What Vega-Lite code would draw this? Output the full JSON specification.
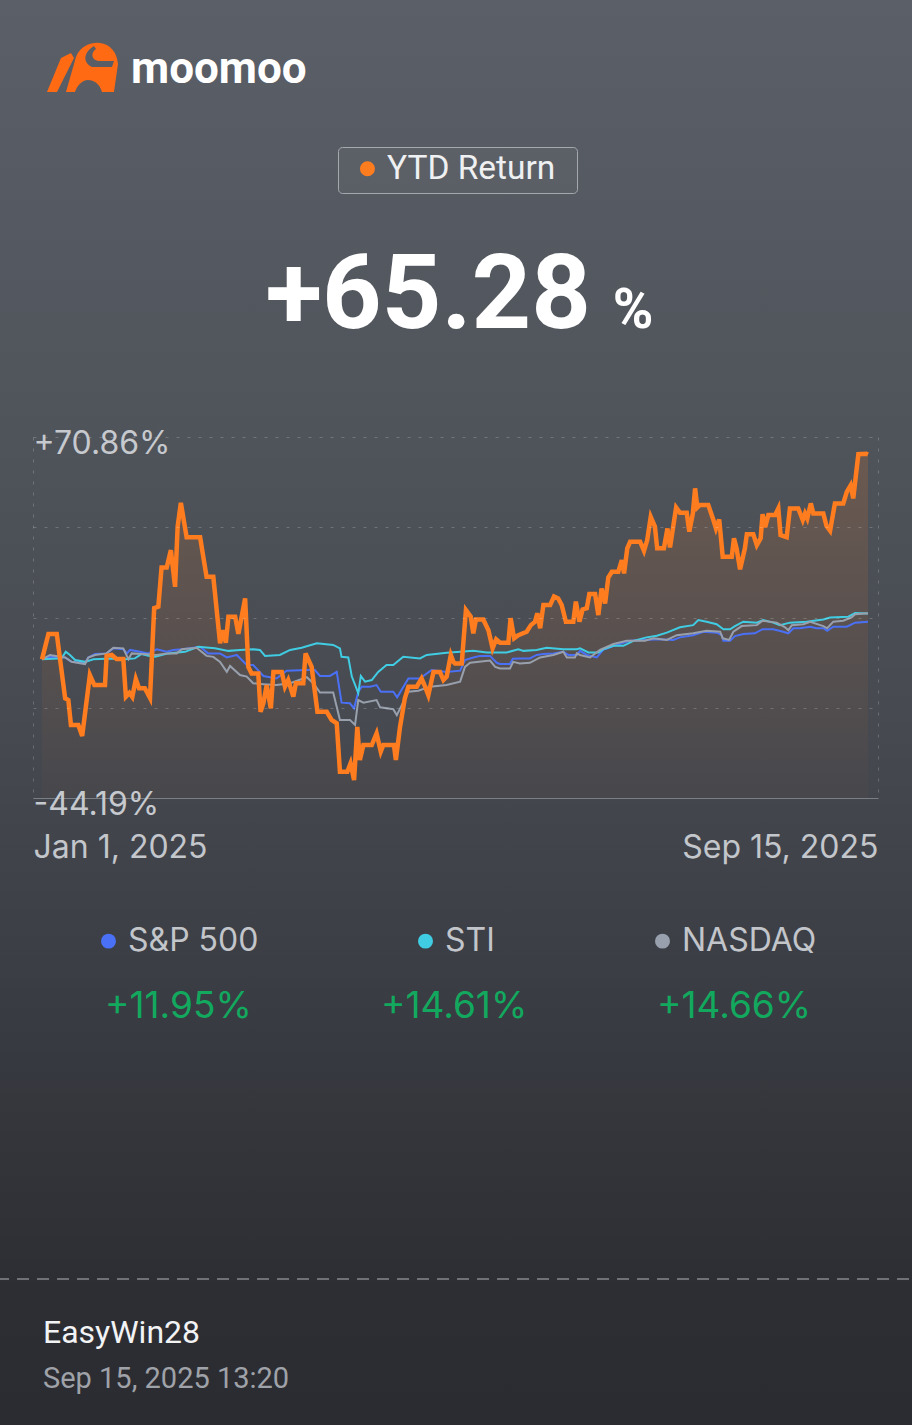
{
  "$schema": "https://vega.github.io/schema/vega-lite/v6.json",
  "width": 845,
  "height": 361,
  "autosize": {"type": "none"},
  "padding": {"left": 33, "top": 437, "right": 34, "bottom": 627},
  "background": "#42454c",
  "datasets": {
    "ytd": [
      {"day": 0, "ret": 0}, {"day": 2.0, "ret": 8.1}, {"day": 4.6, "ret": 8.1}, {"day": 7.2, "ret": -12.4},
      {"day": 8.2, "ret": -13.0}, {"day": 9.0, "ret": -20.9}, {"day": 11.3, "ret": -20.9}, {"day": 12.5, "ret": -24.4},
      {"day": 14.9, "ret": -5.0}, {"day": 16.3, "ret": -8.2}, {"day": 19.6, "ret": -8.2}, {"day": 20.1, "ret": 1.1},
      {"day": 21.7, "ret": 1.4}, {"day": 23.2, "ret": 0.1}, {"day": 25.3, "ret": 0.1}, {"day": 26.1, "ret": -11.9},
      {"day": 27.2, "ret": -10.7}, {"day": 28.1, "ret": -12.0}, {"day": 29.2, "ret": -6.3}, {"day": 30.2, "ret": -9.2},
      {"day": 32.0, "ret": -9.2}, {"day": 33.6, "ret": -12.3}, {"day": 34.9, "ret": 16.3}, {"day": 36.2, "ret": 16.8},
      {"day": 37.2, "ret": 29.3}, {"day": 38.8, "ret": 29.3}, {"day": 40.1, "ret": 34.8}, {"day": 41.4, "ret": 23.1},
      {"day": 42.2, "ret": 42.3}, {"day": 43.2, "ret": 49.9}, {"day": 45.0, "ret": 38.9}, {"day": 47.4, "ret": 38.9},
      {"day": 49.2, "ret": 38.9}, {"day": 51.2, "ret": 26.3}, {"day": 53.3, "ret": 26.3}, {"day": 55.4, "ret": 5.1},
      {"day": 56.4, "ret": 9.3}, {"day": 57.2, "ret": 5.3}, {"day": 58.0, "ret": 13.6}, {"day": 60.1, "ret": 13.6},
      {"day": 61.1, "ret": 8.1}, {"day": 63.2, "ret": 19.4}, {"day": 64.2, "ret": -2.4}, {"day": 65.2, "ret": -4.5},
      {"day": 67.3, "ret": -4.5}, {"day": 68.0, "ret": -16.7}, {"day": 68.9, "ret": -13.9}, {"day": 69.9, "ret": -8.2},
      {"day": 71.2, "ret": -15.6}, {"day": 72.0, "ret": -4.0}, {"day": 74.6, "ret": -4.0}, {"day": 75.6, "ret": -8.7},
      {"day": 76.6, "ret": -6.6}, {"day": 78.2, "ret": -11.9}, {"day": 79.0, "ret": -7.6}, {"day": 81.3, "ret": -7.6},
      {"day": 82.0, "ret": 1.9}, {"day": 83.9, "ret": -2.4}, {"day": 85.7, "ret": -16.7}, {"day": 88.6, "ret": -16.7},
      {"day": 90.1, "ret": -19.3}, {"day": 91.7, "ret": -20.4}, {"day": 92.7, "ret": -35.8}, {"day": 95.0, "ret": -35.8},
      {"day": 96.0, "ret": -33.1}, {"day": 97.1, "ret": -38.5}, {"day": 98.1, "ret": -21.5}, {"day": 98.9, "ret": -32.1},
      {"day": 100.0, "ret": -27.3}, {"day": 102.6, "ret": -27.3}, {"day": 104.1, "ret": -23.6}, {"day": 105.4, "ret": -29.4},
      {"day": 106.2, "ret": -27.3}, {"day": 109.5, "ret": -27.3}, {"day": 110.1, "ret": -32.1}, {"day": 111.4, "ret": -21.5},
      {"day": 112.9, "ret": -12.4}, {"day": 114.0, "ret": -8.7}, {"day": 116.6, "ret": -8.7}, {"day": 118.1, "ret": -6.1},
      {"day": 119.2, "ret": -8.7}, {"day": 120.2, "ret": -11.4}, {"day": 121.8, "ret": -4.0}, {"day": 123.8, "ret": -4.0},
      {"day": 124.9, "ret": -6.6}, {"day": 125.9, "ret": -5.5}, {"day": 127.2, "ret": 1.4}, {"day": 128.0, "ret": -0.8},
      {"day": 128.5, "ret": -1.3}, {"day": 130.6, "ret": -1.3}, {"day": 131.9, "ret": 15.7}, {"day": 133.4, "ret": 13.6},
      {"day": 134.2, "ret": 8.3}, {"day": 135.0, "ret": 12.7}, {"day": 137.3, "ret": 12.7}, {"day": 138.9, "ret": 9.3},
      {"day": 140.2, "ret": 3.5}, {"day": 141.3, "ret": 6.4}, {"day": 142.5, "ret": 5.3}, {"day": 145.1, "ret": 5.3},
      {"day": 145.8, "ret": 13.1}, {"day": 146.9, "ret": 6.7}, {"day": 148.2, "ret": 7.7}, {"day": 150.8, "ret": 8.8},
      {"day": 152.1, "ret": 10.9}, {"day": 153.4, "ret": 12.0}, {"day": 154.1, "ret": 14.7}, {"day": 155.0, "ret": 9.9},
      {"day": 156.0, "ret": 17.3}, {"day": 158.1, "ret": 17.3}, {"day": 159.3, "ret": 20.0}, {"day": 160.6, "ret": 19.4},
      {"day": 161.7, "ret": 17.3}, {"day": 163.0, "ret": 12.0}, {"day": 165.3, "ret": 12.0}, {"day": 166.1, "ret": 18.4},
      {"day": 167.2, "ret": 12.0}, {"day": 168.2, "ret": 15.9}, {"day": 169.5, "ret": 16.3}, {"day": 170.3, "ret": 20.8},
      {"day": 172.1, "ret": 20.8}, {"day": 173.1, "ret": 14.1}, {"day": 174.1, "ret": 22.6}, {"day": 175.2, "ret": 17.8},
      {"day": 176.2, "ret": 26.1}, {"day": 177.3, "ret": 27.9}, {"day": 179.3, "ret": 27.9}, {"day": 180.4, "ret": 31.6},
      {"day": 181.1, "ret": 27.4}, {"day": 182.1, "ret": 35.4}, {"day": 183.0, "ret": 37.5}, {"day": 186.1, "ret": 37.5},
      {"day": 187.3, "ret": 34.6}, {"day": 188.3, "ret": 38.0}, {"day": 189.4, "ret": 45.4}, {"day": 190.7, "ret": 42.3},
      {"day": 191.4, "ret": 35.4}, {"day": 193.5, "ret": 35.4}, {"day": 194.6, "ret": 41.7}, {"day": 195.4, "ret": 35.7},
      {"day": 197.3, "ret": 48.4}, {"day": 198.5, "ret": 46.7}, {"day": 200.6, "ret": 46.7}, {"day": 201.4, "ret": 40.7},
      {"day": 202.5, "ret": 46.5}, {"day": 203.2, "ret": 54.5}, {"day": 203.9, "ret": 48.4}, {"day": 204.7, "ret": 49.2},
      {"day": 207.3, "ret": 49.2}, {"day": 208.9, "ret": 44.4}, {"day": 209.7, "ret": 41.7}, {"day": 210.7, "ret": 44.6},
      {"day": 211.8, "ret": 32.7}, {"day": 214.6, "ret": 32.7}, {"day": 215.3, "ret": 38.6}, {"day": 216.1, "ret": 35.4},
      {"day": 217.2, "ret": 28.7}, {"day": 218.7, "ret": 35.4}, {"day": 219.3, "ret": 39.9}, {"day": 221.3, "ret": 39.9},
      {"day": 222.4, "ret": 36.4}, {"day": 223.6, "ret": 38.6}, {"day": 224.2, "ret": 46.3}, {"day": 225.0, "ret": 42.1},
      {"day": 226.0, "ret": 46.0}, {"day": 228.1, "ret": 46.0}, {"day": 229.1, "ret": 48.1}, {"day": 229.8, "ret": 39.6},
      {"day": 231.7, "ret": 38.9}, {"day": 232.7, "ret": 48.1}, {"day": 235.3, "ret": 48.1}, {"day": 236.7, "ret": 44.4},
      {"day": 237.4, "ret": 46.5}, {"day": 238.1, "ret": 44.9}, {"day": 239.2, "ret": 49.7}, {"day": 240.0, "ret": 46.5},
      {"day": 243.1, "ret": 46.5}, {"day": 244.1, "ret": 42.5}, {"day": 245.2, "ret": 41.0}, {"day": 246.7, "ret": 49.7},
      {"day": 249.3, "ret": 49.7}, {"day": 250.4, "ret": 53.4}, {"day": 251.6, "ret": 55.5}, {"day": 252.4, "ret": 51.3},
      {"day": 254.0, "ret": 65.4}, {"day": 256.5, "ret": 65.5}, {"day": 257, "ret": 65.28}
    ],
    "bench": [
      {"series": "S&P 500", "day": 0, "ret": 0}, {"series": "S&P 500", "day": 2.5, "ret": 0.8}, {"series": "S&P 500", "day": 7.2, "ret": 0.6},
      {"series": "S&P 500", "day": 9.2, "ret": -0.8}, {"series": "S&P 500", "day": 13.4, "ret": -1.1}, {"series": "S&P 500", "day": 14.4, "ret": 0.6},
      {"series": "S&P 500", "day": 16.5, "ret": 1.7}, {"series": "S&P 500", "day": 20.1, "ret": 1.9}, {"series": "S&P 500", "day": 22.2, "ret": 3.5},
      {"series": "S&P 500", "day": 25.3, "ret": 3.2}, {"series": "S&P 500", "day": 26.4, "ret": 1.9}, {"series": "S&P 500", "day": 27.4, "ret": 3.0},
      {"series": "S&P 500", "day": 30.5, "ret": 2.4}, {"series": "S&P 500", "day": 33.1, "ret": 1.9}, {"series": "S&P 500", "day": 35.7, "ret": 3.2},
      {"series": "S&P 500", "day": 38.8, "ret": 2.4}, {"series": "S&P 500", "day": 40.9, "ret": 3.0}, {"series": "S&P 500", "day": 43.5, "ret": 3.2},
      {"series": "S&P 500", "day": 46.0, "ret": 3.5}, {"series": "S&P 500", "day": 49.2, "ret": 4.0}, {"series": "S&P 500", "day": 51.7, "ret": 1.9},
      {"series": "S&P 500", "day": 55.4, "ret": 1.9}, {"series": "S&P 500", "day": 57.5, "ret": 0.6}, {"series": "S&P 500", "day": 60.6, "ret": 1.4},
      {"series": "S&P 500", "day": 63.7, "ret": -1.8}, {"series": "S&P 500", "day": 65.7, "ret": -1.8}, {"series": "S&P 500", "day": 68.9, "ret": -5.3},
      {"series": "S&P 500", "day": 73.0, "ret": -6.1}, {"series": "S&P 500", "day": 76.1, "ret": -3.6}, {"series": "S&P 500", "day": 82.4, "ret": -3.4},
      {"series": "S&P 500", "day": 84.9, "ret": -3.4}, {"series": "S&P 500", "day": 86.5, "ret": -5.3}, {"series": "S&P 500", "day": 89.6, "ret": -5.3},
      {"series": "S&P 500", "day": 91.7, "ret": -4.0}, {"series": "S&P 500", "day": 93.2, "ret": -13.8}, {"series": "S&P 500", "day": 95.8, "ret": -14.0},
      {"series": "S&P 500", "day": 97.1, "ret": -15.6}, {"series": "S&P 500", "day": 98.4, "ret": -10.3}, {"series": "S&P 500", "day": 99.5, "ret": -8.7},
      {"series": "S&P 500", "day": 102.1, "ret": -8.7}, {"series": "S&P 500", "day": 104.1, "ret": -8.2}, {"series": "S&P 500", "day": 105.4, "ret": -10.3},
      {"series": "S&P 500", "day": 109.3, "ret": -10.3}, {"series": "S&P 500", "day": 110.5, "ret": -12.1}, {"series": "S&P 500", "day": 114.0, "ret": -6.1},
      {"series": "S&P 500", "day": 117.6, "ret": -6.1}, {"series": "S&P 500", "day": 121.2, "ret": -3.4}, {"series": "S&P 500", "day": 125.9, "ret": -4.0},
      {"series": "S&P 500", "day": 130.1, "ret": -3.6}, {"series": "S&P 500", "day": 131.6, "ret": -0.2}, {"series": "S&P 500", "day": 134.2, "ret": 0.6},
      {"series": "S&P 500", "day": 136.3, "ret": 1.1}, {"series": "S&P 500", "day": 139.4, "ret": 1.1}, {"series": "S&P 500", "day": 141.5, "ret": -1.1},
      {"series": "S&P 500", "day": 142.5, "ret": -1.5}, {"series": "S&P 500", "day": 145.6, "ret": -1.5}, {"series": "S&P 500", "day": 146.5, "ret": 0.2},
      {"series": "S&P 500", "day": 148.7, "ret": 0.3}, {"series": "S&P 500", "day": 151.8, "ret": 0.3}, {"series": "S&P 500", "day": 153.9, "ret": 1.4},
      {"series": "S&P 500", "day": 156.0, "ret": 1.7}, {"series": "S&P 500", "day": 159.1, "ret": 1.9}, {"series": "S&P 500", "day": 162.2, "ret": 2.4},
      {"series": "S&P 500", "day": 163.8, "ret": 1.4}, {"series": "S&P 500", "day": 166.4, "ret": 1.4}, {"series": "S&P 500", "day": 167.4, "ret": 2.7},
      {"series": "S&P 500", "day": 169.5, "ret": 1.4}, {"series": "S&P 500", "day": 172.6, "ret": 0.6}, {"series": "S&P 500", "day": 174.6, "ret": 3.0},
      {"series": "S&P 500", "day": 178.8, "ret": 4.6}, {"series": "S&P 500", "day": 183.0, "ret": 5.9}, {"series": "S&P 500", "day": 187.1, "ret": 6.2},
      {"series": "S&P 500", "day": 192.3, "ret": 6.4}, {"series": "S&P 500", "day": 196.4, "ret": 6.2}, {"series": "S&P 500", "day": 198.5, "ret": 7.0},
      {"series": "S&P 500", "day": 202.6, "ret": 7.7}, {"series": "S&P 500", "day": 205.8, "ret": 8.8}, {"series": "S&P 500", "day": 209.9, "ret": 8.5},
      {"series": "S&P 500", "day": 211.5, "ret": 7.7}, {"series": "S&P 500", "day": 212.0, "ret": 5.9}, {"series": "S&P 500", "day": 214.1, "ret": 5.9},
      {"series": "S&P 500", "day": 215.6, "ret": 7.4}, {"series": "S&P 500", "day": 218.2, "ret": 8.1}, {"series": "S&P 500", "day": 221.8, "ret": 8.3},
      {"series": "S&P 500", "day": 224.2, "ret": 9.6}, {"series": "S&P 500", "day": 227.5, "ret": 9.6}, {"series": "S&P 500", "day": 230.6, "ret": 8.8},
      {"series": "S&P 500", "day": 232.2, "ret": 8.3}, {"series": "S&P 500", "day": 233.8, "ret": 9.9}, {"series": "S&P 500", "day": 235.8, "ret": 9.9},
      {"series": "S&P 500", "day": 239.0, "ret": 10.4}, {"series": "S&P 500", "day": 241.0, "ret": 9.9}, {"series": "S&P 500", "day": 243.1, "ret": 9.9},
      {"series": "S&P 500", "day": 244.3, "ret": 9.1}, {"series": "S&P 500", "day": 246.2, "ret": 10.4}, {"series": "S&P 500", "day": 250.4, "ret": 10.4},
      {"series": "S&P 500", "day": 253.0, "ret": 11.7}, {"series": "S&P 500", "day": 257, "ret": 11.95},
      {"series": "STI", "day": 0, "ret": 0}, {"series": "STI", "day": 6.1, "ret": 0.3}, {"series": "STI", "day": 7.4, "ret": 2.4},
      {"series": "STI", "day": 8.7, "ret": 1.4}, {"series": "STI", "day": 10.3, "ret": -0.2}, {"series": "STI", "day": 13.4, "ret": -0.8},
      {"series": "STI", "day": 16.0, "ret": 0.0}, {"series": "STI", "day": 21.7, "ret": 0.3}, {"series": "STI", "day": 25.8, "ret": 0.0},
      {"series": "STI", "day": 28.9, "ret": 0.3}, {"series": "STI", "day": 31.0, "ret": 1.7}, {"series": "STI", "day": 33.1, "ret": 1.1},
      {"series": "STI", "day": 35.2, "ret": 0.8}, {"series": "STI", "day": 39.3, "ret": 1.9}, {"series": "STI", "day": 44.5, "ret": 2.4},
      {"series": "STI", "day": 48.6, "ret": 4.0}, {"series": "STI", "day": 53.8, "ret": 3.5}, {"series": "STI", "day": 58.0, "ret": 2.7},
      {"series": "STI", "day": 61.6, "ret": 3.0}, {"series": "STI", "day": 65.7, "ret": 3.2}, {"series": "STI", "day": 67.8, "ret": 3.0},
      {"series": "STI", "day": 69.4, "ret": 1.1}, {"series": "STI", "day": 74.0, "ret": 1.4}, {"series": "STI", "day": 77.2, "ret": 3.0},
      {"series": "STI", "day": 80.8, "ret": 3.7}, {"series": "STI", "day": 85.5, "ret": 5.1}, {"series": "STI", "day": 90.6, "ret": 4.6},
      {"series": "STI", "day": 92.7, "ret": 3.5}, {"series": "STI", "day": 93.2, "ret": 0.8}, {"series": "STI", "day": 95.3, "ret": 0.6},
      {"series": "STI", "day": 96.4, "ret": -5.5}, {"series": "STI", "day": 98.4, "ret": -10.8}, {"series": "STI", "day": 99.2, "ret": -5.3},
      {"series": "STI", "day": 100.5, "ret": -7.1}, {"series": "STI", "day": 102.6, "ret": -6.6}, {"series": "STI", "day": 104.6, "ret": -4.0},
      {"series": "STI", "day": 107.2, "ret": -1.8}, {"series": "STI", "day": 109.3, "ret": -1.8}, {"series": "STI", "day": 112.4, "ret": 0.8},
      {"series": "STI", "day": 117.6, "ret": 0.3}, {"series": "STI", "day": 119.7, "ret": 1.4}, {"series": "STI", "day": 125.9, "ret": 2.1},
      {"series": "STI", "day": 130.1, "ret": 2.4}, {"series": "STI", "day": 134.2, "ret": 2.7}, {"series": "STI", "day": 138.4, "ret": 2.2},
      {"series": "STI", "day": 144.6, "ret": 2.2}, {"series": "STI", "day": 148.2, "ret": 3.2}, {"series": "STI", "day": 149.8, "ret": 2.7},
      {"series": "STI", "day": 153.9, "ret": 3.0}, {"series": "STI", "day": 157.0, "ret": 3.7}, {"series": "STI", "day": 162.2, "ret": 3.2},
      {"series": "STI", "day": 166.4, "ret": 3.2}, {"series": "STI", "day": 167.4, "ret": 3.5}, {"series": "STI", "day": 170.0, "ret": 2.2},
      {"series": "STI", "day": 173.1, "ret": 2.2}, {"series": "STI", "day": 174.6, "ret": 3.2}, {"series": "STI", "day": 177.8, "ret": 4.3},
      {"series": "STI", "day": 180.9, "ret": 4.3}, {"series": "STI", "day": 184.0, "ret": 5.9}, {"series": "STI", "day": 188.1, "ret": 7.0},
      {"series": "STI", "day": 191.3, "ret": 7.5}, {"series": "STI", "day": 194.4, "ret": 8.5}, {"series": "STI", "day": 198.5, "ret": 10.2},
      {"series": "STI", "day": 202.6, "ret": 10.9}, {"series": "STI", "day": 204.2, "ret": 12.5}, {"series": "STI", "day": 206.8, "ret": 12.0},
      {"series": "STI", "day": 209.9, "ret": 11.2}, {"series": "STI", "day": 212.0, "ret": 9.6}, {"series": "STI", "day": 214.1, "ret": 9.6},
      {"series": "STI", "day": 215.6, "ret": 10.6}, {"series": "STI", "day": 218.2, "ret": 12.0}, {"series": "STI", "day": 222.4, "ret": 11.7},
      {"series": "STI", "day": 224.4, "ret": 12.5}, {"series": "STI", "day": 227.5, "ret": 11.7}, {"series": "STI", "day": 229.6, "ret": 10.9},
      {"series": "STI", "day": 232.7, "ret": 11.7}, {"series": "STI", "day": 237.9, "ret": 12.0}, {"series": "STI", "day": 243.1, "ret": 12.7},
      {"series": "STI", "day": 245.2, "ret": 13.3}, {"series": "STI", "day": 250.9, "ret": 13.6}, {"series": "STI", "day": 253.0, "ret": 14.8},
      {"series": "STI", "day": 257, "ret": 14.61},
      {"series": "NASDAQ", "day": 0, "ret": 0}, {"series": "NASDAQ", "day": 2.5, "ret": 1.4}, {"series": "NASDAQ", "day": 7.2, "ret": 0.6},
      {"series": "NASDAQ", "day": 9.2, "ret": -0.8}, {"series": "NASDAQ", "day": 13.4, "ret": -1.5}, {"series": "NASDAQ", "day": 14.4, "ret": 0.6},
      {"series": "NASDAQ", "day": 16.5, "ret": 1.4}, {"series": "NASDAQ", "day": 20.1, "ret": 1.9}, {"series": "NASDAQ", "day": 22.2, "ret": 3.7},
      {"series": "NASDAQ", "day": 25.3, "ret": 3.5}, {"series": "NASDAQ", "day": 26.9, "ret": 0.0}, {"series": "NASDAQ", "day": 27.9, "ret": 1.9},
      {"series": "NASDAQ", "day": 32.6, "ret": 1.6}, {"series": "NASDAQ", "day": 35.7, "ret": 1.4}, {"series": "NASDAQ", "day": 38.8, "ret": 1.9},
      {"series": "NASDAQ", "day": 41.9, "ret": 1.9}, {"series": "NASDAQ", "day": 43.5, "ret": 3.2}, {"series": "NASDAQ", "day": 48.1, "ret": 3.7},
      {"series": "NASDAQ", "day": 51.2, "ret": 1.1}, {"series": "NASDAQ", "day": 53.3, "ret": 0.8}, {"series": "NASDAQ", "day": 55.4, "ret": -0.8},
      {"series": "NASDAQ", "day": 57.5, "ret": -4.0}, {"series": "NASDAQ", "day": 58.5, "ret": -2.1}, {"series": "NASDAQ", "day": 61.6, "ret": -5.0},
      {"series": "NASDAQ", "day": 63.7, "ret": -5.5}, {"series": "NASDAQ", "day": 65.7, "ret": -7.6}, {"series": "NASDAQ", "day": 68.9, "ret": -7.9},
      {"series": "NASDAQ", "day": 73.0, "ret": -8.2}, {"series": "NASDAQ", "day": 77.2, "ret": -7.6}, {"series": "NASDAQ", "day": 82.4, "ret": -5.7},
      {"series": "NASDAQ", "day": 84.4, "ret": -7.6}, {"series": "NASDAQ", "day": 86.5, "ret": -10.6}, {"series": "NASDAQ", "day": 90.6, "ret": -10.6},
      {"series": "NASDAQ", "day": 92.7, "ret": -19.3}, {"series": "NASDAQ", "day": 95.8, "ret": -19.3}, {"series": "NASDAQ", "day": 97.4, "ret": -20.9},
      {"series": "NASDAQ", "day": 98.4, "ret": -13.0}, {"series": "NASDAQ", "day": 100.0, "ret": -13.8}, {"series": "NASDAQ", "day": 104.1, "ret": -13.0},
      {"series": "NASDAQ", "day": 105.2, "ret": -15.3}, {"series": "NASDAQ", "day": 109.3, "ret": -15.9}, {"series": "NASDAQ", "day": 110.4, "ret": -17.8},
      {"series": "NASDAQ", "day": 114.0, "ret": -10.3}, {"series": "NASDAQ", "day": 117.1, "ret": -10.0}, {"series": "NASDAQ", "day": 120.7, "ret": -8.7},
      {"series": "NASDAQ", "day": 125.9, "ret": -8.2}, {"series": "NASDAQ", "day": 130.1, "ret": -7.1}, {"series": "NASDAQ", "day": 131.6, "ret": -2.4},
      {"series": "NASDAQ", "day": 133.2, "ret": -1.1}, {"series": "NASDAQ", "day": 139.4, "ret": -0.4}, {"series": "NASDAQ", "day": 141.0, "ret": -2.4},
      {"series": "NASDAQ", "day": 142.5, "ret": -2.9}, {"series": "NASDAQ", "day": 145.6, "ret": -2.9}, {"series": "NASDAQ", "day": 146.6, "ret": -0.8},
      {"series": "NASDAQ", "day": 148.7, "ret": -1.3}, {"series": "NASDAQ", "day": 151.8, "ret": -1.1}, {"series": "NASDAQ", "day": 155.0, "ret": 0.6},
      {"series": "NASDAQ", "day": 159.1, "ret": 1.4}, {"series": "NASDAQ", "day": 162.2, "ret": 2.4}, {"series": "NASDAQ", "day": 163.3, "ret": 0.6},
      {"series": "NASDAQ", "day": 165.8, "ret": 0.6}, {"series": "NASDAQ", "day": 166.4, "ret": 1.9}, {"series": "NASDAQ", "day": 167.4, "ret": 1.4},
      {"series": "NASDAQ", "day": 170.5, "ret": 0.6}, {"series": "NASDAQ", "day": 173.6, "ret": 3.0}, {"series": "NASDAQ", "day": 177.8, "ret": 4.9},
      {"series": "NASDAQ", "day": 181.9, "ret": 5.9}, {"series": "NASDAQ", "day": 187.6, "ret": 5.9}, {"series": "NASDAQ", "day": 190.2, "ret": 6.7},
      {"series": "NASDAQ", "day": 194.4, "ret": 6.2}, {"series": "NASDAQ", "day": 197.5, "ret": 7.7}, {"series": "NASDAQ", "day": 202.6, "ret": 8.3},
      {"series": "NASDAQ", "day": 206.8, "ret": 9.1}, {"series": "NASDAQ", "day": 211.0, "ret": 8.8}, {"series": "NASDAQ", "day": 211.8, "ret": 6.7},
      {"series": "NASDAQ", "day": 213.8, "ret": 6.2}, {"series": "NASDAQ", "day": 215.1, "ret": 8.8}, {"series": "NASDAQ", "day": 217.7, "ret": 10.6},
      {"series": "NASDAQ", "day": 222.4, "ret": 10.9}, {"series": "NASDAQ", "day": 224.2, "ret": 12.3}, {"series": "NASDAQ", "day": 228.6, "ret": 11.7},
      {"series": "NASDAQ", "day": 231.2, "ret": 10.2}, {"series": "NASDAQ", "day": 232.2, "ret": 9.3}, {"series": "NASDAQ", "day": 233.3, "ret": 10.9},
      {"series": "NASDAQ", "day": 236.9, "ret": 11.2}, {"series": "NASDAQ", "day": 239.0, "ret": 12.0}, {"series": "NASDAQ", "day": 243.1, "ret": 10.6},
      {"series": "NASDAQ", "day": 244.3, "ret": 9.9}, {"series": "NASDAQ", "day": 246.2, "ret": 12.0}, {"series": "NASDAQ", "day": 249.3, "ret": 12.3},
      {"series": "NASDAQ", "day": 251.9, "ret": 13.4}, {"series": "NASDAQ", "day": 253.0, "ret": 14.4}, {"series": "NASDAQ", "day": 257, "ret": 14.66}
    ],
    "summary": [
      {"series": "S&P 500", "label": "+11.95%"},
      {"series": "STI", "label": "+14.61%"},
      {"series": "NASDAQ", "label": "+14.66%"}
    ]
  },
  "layer": [
    {
      "data": {"values": [{}]},
      "mark": {
        "type": "rect",
        "fill": {
          "gradient": "linear", "x1": 0, "y1": 0, "x2": 0, "y2": 1,
          "stops": [
            {"offset": 0, "color": "#5b5f67"},
            {"offset": 0.31, "color": "#4f535a"},
            {"offset": 0.5, "color": "#474a51"},
            {"offset": 0.66, "color": "#3c3f46"},
            {"offset": 0.8, "color": "#33353b"},
            {"offset": 0.9, "color": "#2d2e33"},
            {"offset": 1, "color": "#2b2c31"}
          ]
        }
      },
      "encoding": {
        "x": {"datum": -14, "type": "quantitative", "title": null, "scale": {"domain": [-2.8, 260.11], "nice": false, "zero": false}},
        "x2": {"datum": 272},
        "y": {"datum": 211, "type": "quantitative", "title": null, "scale": {"domain": [-44.19, 70.86], "nice": false, "zero": false}},
        "y2": {"datum": -245}
      }
    },
    {
      "data": {"name": "ytd"},
      "mark": {
        "type": "area",
        "fill": {
          "gradient": "linear", "x1": 0, "y1": 0, "x2": 0, "y2": 1,
          "stops": [
            {"offset": 0, "color": "rgba(255,125,31,0.16)"},
            {"offset": 1, "color": "rgba(255,125,31,0.02)"}
          ]
        }
      },
      "encoding": {
        "x": {
          "field": "day", "type": "quantitative", "title": null,
          "scale": {"domain": [-2.8, 260.11], "nice": false, "zero": false},
          "axis": {
            "values": [-2.8, 260.11],
            "labelExpr": "datum.value < 100 ? 'Jan 1, 2025' : 'Sep 15, 2025'",
            "labelFlush": true, "labelOverlap": false, "labelLimit": 400,
            "labelFont": "Inter", "labelFontSize": 32, "labelColor": "#c3c6cb", "labelPadding": 34,
            "ticks": false, "tickSize": 0,
            "domain": true, "domainColor": "#7a7e85", "domainWidth": 1,
            "grid": true, "gridColor": "#ffffff", "gridOpacity": 0.2, "gridDash": [3, 8],
            "zindex": 1
          }
        },
        "y": {
          "field": "ret", "type": "quantitative", "title": null,
          "scale": {"domain": [-44.19, 70.86], "nice": false, "zero": false},
          "axis": {
            "values": [70.86, 42.0975, 13.335, -15.4275, -44.19],
            "labelExpr": "datum.value > 70 ? '+70.86%' : (datum.value < -44 ? '-44.19%' : '')",
            "labelAlign": "left", "labelBaseline": "alphabetic", "labelOffset": 16, "labelPadding": 0,
            "labelFlush": false, "labelOverlap": false, "labelLimit": 400,
            "labelFont": "Inter", "labelFontSize": 32, "labelColor": "#c6c9ce",
            "ticks": false, "tickSize": 0, "domain": false,
            "grid": true, "gridColor": "#ffffff", "gridOpacity": 0.2, "gridDash": [3, 8],
            "zindex": 1
          }
        },
        "y2": {"datum": -44.19}
      }
    },
    {
      "data": {"name": "bench"},
      "mark": {"type": "line", "strokeWidth": 2},
      "encoding": {
        "x": {"field": "day", "type": "quantitative", "title": null, "scale": {"domain": [-2.8, 260.11], "nice": false, "zero": false}},
        "y": {"field": "ret", "type": "quantitative", "title": null, "scale": {"domain": [-44.19, 70.86], "nice": false, "zero": false}},
        "color": {
          "field": "series", "type": "nominal",
          "scale": {"domain": ["S&P 500", "STI", "NASDAQ"], "range": ["#4a70f5", "#40cde3", "#98a0ad"]},
          "legend": {
            "orient": "none", "legendX": 59.5, "legendY": 488, "direction": "horizontal", "title": null,
            "symbolType": "circle", "symbolSize": 56, "symbolStrokeWidth": 7.5,
            "labelFont": "Inter", "labelFontSize": 32, "labelColor": "#c2c5ca", "labelOffset": 3.5,
            "columnPadding": 148, "padding": 0, "labelLimit": 400
          }
        }
      }
    },
    {
      "data": {"name": "ytd"},
      "mark": {"type": "line", "strokeWidth": 4.5},
      "encoding": {
        "x": {"field": "day", "type": "quantitative", "title": null, "scale": {"domain": [-2.8, 260.11], "nice": false, "zero": false}},
        "y": {"field": "ret", "type": "quantitative", "title": null, "scale": {"domain": [-44.19, 70.86], "nice": false, "zero": false}},
        "stroke": {
          "datum": "YTD Return",
          "scale": {"range": ["#ff7d1f"]},
          "legend": {
            "orient": "none", "legendX": 305, "legendY": -290,
            "title": "xx", "titleOrient": "right", "titleFontSize": 10, "titleOpacity": 0, "titlePadding": 5,
            "symbolType": "circle", "symbolSize": 56, "symbolStrokeWidth": 7.5, "symbolOffset": 7.7,
            "labelFont": "Roboto", "labelFontSize": 33.5, "labelColor": "#eef0f2", "labelOffset": 2.8,
            "padding": 5, "strokeColor": "#a5a8ad", "cornerRadius": 4, "fillColor": "rgba(255,255,255,0.03)",
            "labelLimit": 400
          }
        }
      }
    },
    {
      "data": {"name": "summary"},
      "mark": {"type": "point", "opacity": 0},
      "encoding": {
        "shape": {
          "field": "label", "type": "nominal",
          "scale": {"domain": ["+11.95%", "+14.61%", "+14.66%"]},
          "legend": {
            "orient": "none", "legendX": 35, "legendY": 551, "direction": "horizontal", "title": null,
            "symbolOpacity": 0, "symbolSize": 1, "labelOffset": 0,
            "labelFont": "Inter", "labelFontSize": 37, "labelColor": "#12a95f",
            "columnPadding": 92, "padding": 0, "labelLimit": 400
          }
        }
      }
    },
    {
      "data": {"values": [{}]},
      "mark": {"type": "rule", "stroke": "#86888d", "strokeWidth": 1.5, "strokeDash": [12, 8]},
      "encoding": {
        "x": {"datum": -14, "type": "quantitative", "title": null, "scale": {"domain": [-2.8, 260.11], "nice": false, "zero": false}},
        "x2": {"datum": 272},
        "y": {"datum": -197.5, "type": "quantitative", "title": null, "scale": {"domain": [-44.19, 70.86], "nice": false, "zero": false}}
      }
    },
    {
      "data": {"values": [{}]},
      "mark": {
        "type": "point", "filled": true, "fill": "#ff6a13", "opacity": 1, "strokeWidth": 0, "size": 6084,
        "shape": "M-0.872,0.615L-0.615,0.615L-0.179,-0.256L-0.256,-0.385L-0.513,-0.256Z M-0.385,0.615L-0.128,-0.282C-0.026,-0.564,0.282,-0.667,0.487,-0.641C0.744,-0.615,0.923,-0.41,0.949,-0.103L0.846,0.615L0.538,0.615C0.487,0.41,0.333,0.308,0.179,0.308C0.026,0.308,-0.103,0.462,-0.154,0.615Z M0.333,-0.564C0.077,-0.41,0.026,-0.154,0.282,-0.026L0.795,-0.026L0.846,-0.179L0.436,-0.179C0.282,-0.205,0.231,-0.385,0.385,-0.487Z"
      },
      "encoding": {
        "x": {"datum": 12.13, "type": "quantitative", "title": null, "scale": {"domain": [-2.8, 260.11], "nice": false, "zero": false}},
        "y": {"datum": 188.46, "type": "quantitative", "title": null, "scale": {"domain": [-44.19, 70.86], "nice": false, "zero": false}}
      }
    },
    {
      "data": {"values": [{}]},
      "mark": {"type": "text", "text": "moomoo", "font": "Roboto", "fontSize": 44, "fontWeight": "bold", "fill": "#ffffff", "align": "left", "baseline": "alphabetic"},
      "encoding": {
        "x": {"datum": 27.7, "type": "quantitative", "title": null, "scale": {"domain": [-2.8, 260.11], "nice": false, "zero": false}},
        "y": {"datum": 183.68, "type": "quantitative", "title": null, "scale": {"domain": [-44.19, 70.86], "nice": false, "zero": false}}
      }
    },
    {
      "data": {"values": [{}]},
      "mark": {"type": "text", "text": "+65.28", "font": "Roboto", "fontSize": 104, "fontWeight": "bold", "fill": "#ffffff", "align": "right", "baseline": "alphabetic"},
      "encoding": {
        "x": {"datum": 170.8, "type": "quantitative", "title": null, "scale": {"domain": [-2.8, 260.11], "nice": false, "zero": false}},
        "y": {"datum": 105.6, "type": "quantitative", "title": null, "scale": {"domain": [-44.19, 70.86], "nice": false, "zero": false}}
      }
    },
    {
      "data": {"values": [{}]},
      "mark": {"type": "text", "text": "%", "font": "Roboto", "fontSize": 55, "fontWeight": "bold", "fill": "#ffffff", "align": "left", "baseline": "alphabetic"},
      "encoding": {
        "x": {"datum": 177.6, "type": "quantitative", "title": null, "scale": {"domain": [-2.8, 260.11], "nice": false, "zero": false}},
        "y": {"datum": 105.6, "type": "quantitative", "title": null, "scale": {"domain": [-44.19, 70.86], "nice": false, "zero": false}}
      }
    },
    {
      "data": {"values": [{}]},
      "mark": {"type": "text", "text": "EasyWin28", "font": "Roboto", "fontSize": 32, "fill": "#f2f3f5", "align": "left", "baseline": "alphabetic"},
      "encoding": {
        "x": {"datum": 0.3, "type": "quantitative", "title": null, "scale": {"domain": [-2.8, 260.11], "nice": false, "zero": false}},
        "y": {"datum": -217.9, "type": "quantitative", "title": null, "scale": {"domain": [-44.19, 70.86], "nice": false, "zero": false}}
      }
    },
    {
      "data": {"values": [{}]},
      "mark": {"type": "text", "text": "Sep 15, 2025 13:20", "font": "Roboto", "fontSize": 29, "fill": "#9fa2a8", "align": "left", "baseline": "alphabetic"},
      "encoding": {
        "x": {"datum": 0.3, "type": "quantitative", "title": null, "scale": {"domain": [-2.8, 260.11], "nice": false, "zero": false}},
        "y": {"datum": -232.2, "type": "quantitative", "title": null, "scale": {"domain": [-44.19, 70.86], "nice": false, "zero": false}}
      }
    }
  ],
  "config": {
    "view": {"stroke": null},
    "legend": {"labelLimit": 400}
  }
}
